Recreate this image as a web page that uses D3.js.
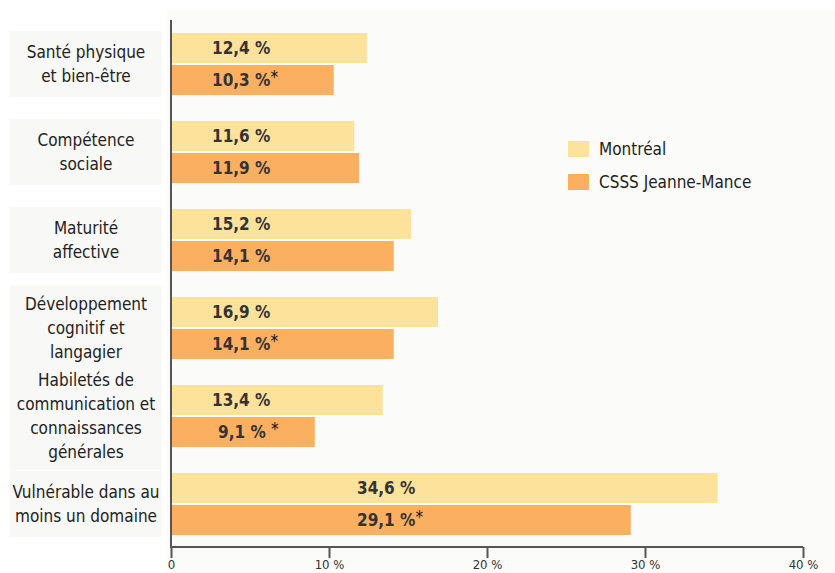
<!DOCTYPE html>
<html>
<head>
<meta charset="utf-8">
<script src="https://cdn.jsdelivr.net/npm/d3@7"></script>
<style>
  body { margin: 0; background: #fff; }
  svg text { font-family: "Liberation Sans Narrow", "DejaVu Sans Condensed", "Roboto", sans-serif; }
</style>
</head>
<body>
<div class="chart"></div>
<script>
var categories = [
  ["Santé physique", "et bien-être"],
  ["Compétence", "sociale"],
  ["Maturité", "affective"],
  ["Développement", "cognitif et", "langagier"],
  ["Habiletés de", "communication et", "connaissances", "générales"],
  ["Vulnérable dans au", "moins un domaine"]
]
var series = ["Montréal", "CSSS Jeanne-Mance"]
var montreal = [12.4, 11.6, 15.2, 16.9, 13.4, 34.6]
var csss = [10.3, 11.9, 14.1, 14.1, 9.1, 29.1]
var significant = [true, false, false, true, true, true]
var ticks = [0, 10, 20, 30, 40]

document.addEventListener("DOMContentLoaded", draw)

function draw() {
  var width = 835,
    height = 573,
    colors = ["#fde29b", "#fbb061"]

  var svg = d3.select(".chart").append("svg")
    .attr("width", width)
    .attr("height", height)

  // light plot background
  svg.append("rect")
    .attr("x", 167).attr("y", 10)
    .attr("width", width - 167).attr("height", height - 10)
    .attr("fill", "#fbfbf9")

  var x = d3.scaleLinear().domain([0, 40]).range([171, 803])
  var y = d3.scaleBand()
    .domain(d3.range(categories.length))
    .range([20, 548])
    .paddingInner(26 / 88)
    .paddingOuter(13 / 88)
  var barH = (y.bandwidth() - 2) / 2

  function boxH(d) { return Math.max(y.bandwidth() + 4, d.length * 24.3 + 12) }

  // label boxes first so that text is never covered
  svg.selectAll("rect.box")
    .data(categories)
    .enter().append("rect")
    .attr("class", "box")
    .attr("x", 10)
    .attr("width", 152)
    .attr("y", function (d, i) { return y(i) + y.bandwidth() / 2 - boxH(d) / 2 })
    .attr("height", boxH)
    .attr("fill", "#f8f8f6")

  var groups = svg.selectAll("g.group")
    .data(categories)
    .enter().append("g")
    .attr("class", "group")
    .attr("transform", function (d, i) { return "translate(0," + y(i) + ")" })

  groups.append("text")
    .attr("x", 86)
    .attr("text-anchor", "middle")
    .attr("fill", "#222")
    .style("font-size", "17px")
    .selectAll("tspan")
    .data(function (d) { return d.map(function (t, k) { return { t: t, k: k, n: d.length } }) })
    .enter().append("tspan")
    .attr("x", 86)
    .attr("y", function (d) { return y.bandwidth() / 2 + (d.k - (d.n - 1) / 2) * 24.3 + 6 })
    .text(function (d) { return d.t })

  var vals = [montreal, csss]
  vals.forEach(function (arr, s) {
    groups.append("rect")
      .attr("x", x(0))
      .attr("y", s * (barH + 2))
      .attr("width", function (d, i) { return x(arr[i]) - x(0) })
      .attr("height", barH)
      .attr("fill", colors[s])

    var lab = groups.append("text")
      .attr("x", function (d, i) { return i === 5 ? 357 : (s === 1 && i === 4 ? 218 : 212) })
      .attr("y", s * (barH + 2) + barH / 2 + 6)
      .attr("fill", "#333")
      .style("font-size", "17px")
      .style("font-weight", "bold")
    lab.append("tspan")
      .text(function (d, i) { return String(arr[i]).replace(".", ",") + (s === 1 && i === 4 ? " % " : " %") })
    if (s === 1) {
      lab.append("tspan")
        .attr("dy", -3)
        .style("font-weight", "normal")
        .attr("fill", "#111")
        .text(function (d, i) { return significant[i] ? "*" : "" })
    }
  })

  // axes
  var xAxis = d3.axisBottom(x)
    .tickValues(ticks)
    .tickSize(11)
    .tickFormat(function (d) { return d === 0 ? "0" : d + " %" })
  var ax = svg.append("g")
    .attr("transform", "translate(0,547)")
    .call(xAxis)
  ax.select(".domain").attr("stroke", "#555").attr("stroke-width", 2)
    .attr("d", "M" + x(0) + ",0H" + x(40))
  ax.selectAll(".tick line").attr("stroke", "#555").attr("stroke-width", 2)
  ax.selectAll(".tick text")
    .attr("y", 13)
    .attr("fill", "#333")
    .style("font-size", "13px")
    .style("font-family", "'Liberation Sans Narrow', 'DejaVu Sans Condensed', sans-serif")

  svg.append("line")
    .attr("x1", x(0)).attr("x2", x(0))
    .attr("y1", 20).attr("y2", 548)
    .attr("stroke", "#555")
    .attr("stroke-width", 2)

  // legend
  var legend = svg.selectAll("g.legend")
    .data(series)
    .enter().append("g")
    .attr("class", "legend")
    .attr("transform", function (d, i) { return "translate(568," + (141 + i * 33) + ")" })
  legend.append("rect")
    .attr("width", 21).attr("height", 16)
    .attr("fill", function (d, i) { return colors[i] })
  legend.append("text")
    .attr("x", 31).attr("y", 14)
    .attr("fill", "#222")
    .style("font-size", "17px")
    .text(function (d) { return d })
}
</script>
</body>
</html>
